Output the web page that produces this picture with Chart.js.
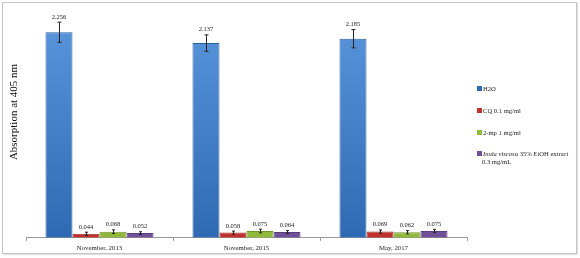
<!DOCTYPE html>
<html>
<head>
<meta charset="utf-8">
<script src="https://cdn.jsdelivr.net/npm/chart.js@4"></script>
<style>
    html, body { margin: 0; padding: 0; background: #fff; }
    #wrap { position: relative; width: 580px; height: 258px; }
    #frame { position: absolute; left: 2px; top: 2px; width: 573px; height: 250px; border: 1px solid #c4c4c4; box-shadow: 1px 1px 1px #e2e2e2; pointer-events: none; }
    #legend { position: absolute; left: 477px; top: 85px; font-family: "Liberation Serif", serif; font-size: 6.6px; color: #222; }
    #legend div { position: absolute; white-space: nowrap; line-height: 8px; }
    #legend span.box { display: inline-block; width: 5px; height: 5px; margin-right: 1px; vertical-align: 0px; }
</style>
</head>
<body>
<div id="wrap">
    <canvas id="chart" width="580" height="258"></canvas>
    <div id="frame"></div>
    <div id="legend"></div>
</div>
<script>
// 数据
const categories = ["November, 2013", "November, 2015", "May, 2017"];
const seriesNames = ["H2O", "CQ 0.1 mg/ml", "2-mp 1 mg/ml", "Inula viscosa 35% EtOH extract 0.3 mg/mL"];
const h2o = [2.256, 2.137, 2.185];
const cq = [0.044, 0.058, 0.069];
const mp = [0.068, 0.075, 0.062];
const inula = [0.052, 0.064, 0.075];
const h2oErr = [0.11, 0.09, 0.10];
const cqErr = [0.018, 0.016, 0.018];
const mpErr = [0.02, 0.02, 0.018];
const inulaErr = [0.015, 0.016, 0.018];

const colors = [
    ["#5b97dd", "#2f69b3", "#2a5f9e"],
    ["#e0524c", "#c0302c", "#9e2a26"],
    ["#b5d85a", "#8fb83a", "#72952c"],
    ["#9a7cc2", "#6f4f98", "#5a3f7e"],
];

function grad(i) {
    return function(ctx) {
        const chart = ctx.chart;
        const area = chart.chartArea;
        if (!area) return colors[i][1];
        const g = chart.ctx.createLinearGradient(0, area.top, 0, area.bottom);
        g.addColorStop(0, colors[i][0]);
        g.addColorStop(1, colors[i][1]);
        return g;
    };
}

const values = [h2o, cq, mp, inula];
const errors = [h2oErr, cqErr, mpErr, inulaErr];

// 误差线和数值标签
const errorBarPlugin = {
    id: "errorBars",
    afterDatasetsDraw(chart) {
        const ctx = chart.ctx;
        const y = chart.scales.y;
        ctx.save();
        chart.data.datasets.forEach((ds, di) => {
            const meta = chart.getDatasetMeta(di);
            meta.data.forEach((bar, i) => {
                const v = ds.data[i];
                const e = errors[di][i];
                const yt = y.getPixelForValue(v + e);
                const yb = y.getPixelForValue(v - e);
                const cap = di === 0 ? 2 : 1.5;
                ctx.strokeStyle = "#222";
                ctx.lineWidth = 1;
                ctx.beginPath();
                ctx.moveTo(bar.x + 0.5, yt);
                ctx.lineTo(bar.x + 0.5, yb);
                ctx.moveTo(bar.x + 0.5 - cap, yt);
                ctx.lineTo(bar.x + 0.5 + cap, yt);
                ctx.moveTo(bar.x + 0.5 - cap, yb);
                ctx.lineTo(bar.x + 0.5 + cap, yb);
                ctx.stroke();
                ctx.fillStyle = "#222";
                ctx.font = "6.5px 'Liberation Serif'";
                ctx.textAlign = "center";
                ctx.textBaseline = "bottom";
                ctx.fillText(v.toFixed(3), bar.x, yt - 2);
            });
        });
        // y 轴标题
        ctx.translate(14, 112);
        ctx.rotate(-Math.PI / 2);
        ctx.font = "11px 'Liberation Serif'";
        ctx.textAlign = "center";
        ctx.textBaseline = "middle";
        ctx.fillStyle = "#111";
        ctx.fillText("Absorption at 405 nm", 0, 0);
        ctx.restore();
    },
};

const chart = new Chart(document.getElementById("chart"), {
    type: "bar",
    data: {
        labels: categories,
        datasets: values.map((d, i) => ({
            label: seriesNames[i],
            data: d,
            backgroundColor: grad(i),
            borderColor: colors[i][2],
            borderWidth: 1,
            categoryPercentage: 0.735,
            barPercentage: 1,
        })),
    },
    options: {
        responsive: false,
        animation: false,
        layout: { padding: { left: 26, right: 113, top: 10, bottom: 3 } },
        plugins: { legend: { display: false }, tooltip: { enabled: false } },
        scales: {
            x: {
                grid: { display: true, drawOnChartArea: false, tickLength: 3, color: "#999" },
                border: { color: "#999" },
                ticks: { font: { family: "Liberation Serif", size: 6.8 }, color: "#222", padding: 3 },
            },
            y: {
                display: false,
                min: 0,
                max: 2.5,
            },
        },
    },
    plugins: [errorBarPlugin],
});

// 图例
const legend = document.getElementById("legend");
const tops = [0, 22, 44, 65];
seriesNames.forEach((name, i) => {
    const div = document.createElement("div");
    div.style.top = tops[i] + "px";
    let text = name;
    if (i === 3) text = "<i>Inula viscosa</i> 35% EtOH extract<br>&nbsp;&nbsp;&nbsp;0.3 mg/mL";
    div.innerHTML = '<span class="box" style="background:' + colors[i][1] + '"></span>' + text;
    legend.appendChild(div);
});
</script>
</body>
</html>
